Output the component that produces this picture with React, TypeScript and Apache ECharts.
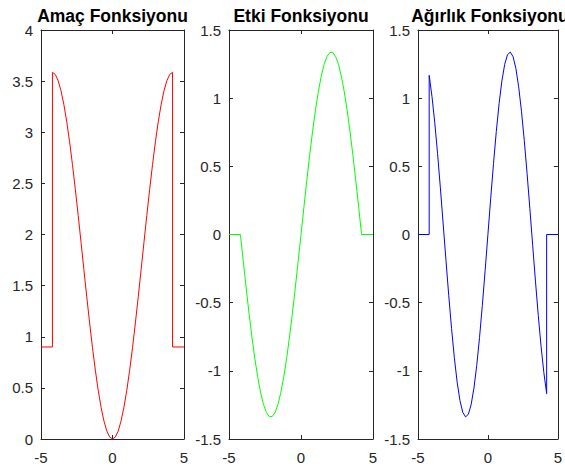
import React, { useEffect, useRef } from "react";
import * as echarts from "echarts";

const titles = ["Amaç Fonksiyonu", "Etki Fonksiyonu", "Ağırlık Fonksiyonu"];

// x positions
const curveX = [
  -4.2, -4.0, -3.8, -3.6, -3.4, -3.2, -3.0, -2.8, -2.6, -2.4, -2.2, -2.0, -1.8, -1.6, -1.4, -1.2, -1.0, -0.8, -0.6, -0.4, -0.2,
  0,
  0.2, 0.4, 0.6, 0.8, 1.0, 1.2, 1.4, 1.6, 1.8, 2.0, 2.2, 2.4, 2.6, 2.8, 3.0, 3.2, 3.4, 3.6, 3.8, 4.0, 4.2,
];

// Amaç (objective) values along curveX
const rhoCurve = [
  3.586, 3.565, 3.504, 3.405, 3.27, 3.103, 2.906, 2.684, 2.443, 2.187, 1.923, 1.655, 1.39, 1.135, 0.894, 0.673, 0.477, 0.311, 0.177, 0.079, 0.02,
  0,
  0.02, 0.079, 0.177, 0.311, 0.477, 0.673, 0.894, 1.135, 1.39, 1.655, 1.923, 2.187, 2.443, 2.684, 2.906, 3.103, 3.27, 3.405, 3.504, 3.565, 3.586,
];

// Etki (influence) values along curveX
const psiCurve = [
  -0.007, -0.206, -0.4, -0.586, -0.759, -0.914, -1.05, -1.162, -1.248, -1.306, -1.336, -1.335, -1.305, -1.246, -1.158, -1.046, -0.91, -0.753, -0.58, -0.394, -0.199,
  0,
  0.199, 0.394, 0.58, 0.753, 0.91, 1.046, 1.158, 1.246, 1.305, 1.335, 1.336, 1.306, 1.248, 1.162, 1.05, 0.914, 0.759, 0.586, 0.4, 0.206, 0.007,
];

// Ağırlık (weight) values along curveX
const wCurve = [
  1.167, 1.013, 0.819, 0.593, 0.342, 0.078, -0.189, -0.449, -0.69, -0.904, -1.083, -1.218, -1.304, -1.338, -1.319, -1.248, -1.127, -0.961, -0.756, -0.521, -0.266,
  0,
  0.266, 0.521, 0.756, 0.961, 1.127, 1.248, 1.319, 1.338, 1.304, 1.218, 1.083, 0.904, 0.69, 0.449, 0.189, -0.078, -0.342, -0.593, -0.819, -1.013, -1.167,
];

// outer flat parts
const rhoLeftX = [-5, -4.2];
const rhoLeftY = [0.9, 0.9];
const rhoRightX = [4.2, 5];
const rhoRightY = [0.9, 0.9];
const psiLeftX = [-5, -4.2];
const psiLeftY = [0, 0];
const psiRightX = [4.2, 5];
const psiRightY = [0, 0];
const wLeftX = [-5, -4.2];
const wLeftY = [0, 0];
const wRightX = [4.2, 5];
const wRightY = [0, 0];

const yRanges = [
  { min: 0, max: 4 },
  { min: -1.5, max: 1.5 },
  { min: -1.5, max: 1.5 },
];

const zip = (xs: number[], ys: number[]) => xs.map((x, i) => [x, ys[i]]);

const FONT = "'Liberation Sans', Arial, Helvetica, sans-serif";
const AX = "#262626";

export default function App() {
  const ref = useRef<HTMLDivElement>(null);
  useEffect(() => {
    if (!ref.current) return;
    const chart = echarts.init(ref.current, undefined, { renderer: "svg" });
    const grids = [
      { left: 41, top: 30, width: 143, height: 409 },
      { left: 229, top: 30, width: 144, height: 409 },
      { left: 418, top: 30, width: 144, height: 409 },
    ];
    const xAxes: any[] = [];
    const yAxes: any[] = [];
    grids.forEach((_, gi) => {
      ["bottom", "top"].forEach((pos) => {
        xAxes.push({
          gridIndex: gi,
          type: "value",
          position: pos,
          min: -5,
          max: 5,
          interval: 5,
          axisLine: { show: true, onZero: false, lineStyle: { color: AX, width: 1 } },
          axisTick: { show: true, inside: true, length: 4, lineStyle: { color: AX, width: 1 } },
          axisLabel: { show: pos === "bottom", margin: 11, fontSize: 15, color: AX, fontFamily: FONT },
          splitLine: { show: false },
        });
      });
      ["left", "right"].forEach((pos) => {
        yAxes.push({
          gridIndex: gi,
          type: "value",
          position: pos,
          min: yRanges[gi].min,
          max: yRanges[gi].max,
          interval: 0.5,
          axisLine: { show: true, onZero: false, lineStyle: { color: AX, width: 1 } },
          axisTick: { show: true, inside: true, length: 4, lineStyle: { color: AX, width: 1 } },
          axisLabel: { show: pos === "left", margin: 8, fontSize: 15, color: AX, fontFamily: FONT },
          splitLine: { show: false },
        });
      });
    });

    const mk = (gi: number, data: number[][], color: string) => ({
      type: "line",
      xAxisIndex: gi * 2,
      yAxisIndex: gi * 2,
      data,
      showSymbol: false,
      symbol: "none",
      lineStyle: { color, width: 1 },
      silent: true,
    });

    const rhoData = [
      ...zip(rhoLeftX, rhoLeftY),
      ...zip(curveX, rhoCurve),
      ...zip(rhoRightX, rhoRightY),
    ];
    const psiData = [
      ...zip(psiLeftX, psiLeftY),
      ...zip(curveX, psiCurve),
      ...zip(psiRightX, psiRightY),
    ];
    const wData = [
      ...zip(wLeftX, wLeftY),
      ...zip(curveX, wCurve),
      ...zip(wRightX, wRightY),
    ];

    chart.setOption({
      animation: false,
      backgroundColor: "#ffffff",
      title: grids.map((g, i) => ({
        text: titles[i],
        left: g.left + g.width / 2,
        textAlign: "center",
        top: 7,
        padding: 0,
        textStyle: { fontSize: 17.5, fontWeight: "bold", color: "#000", fontFamily: FONT },
      })),
      grid: grids,
      xAxis: xAxes,
      yAxis: yAxes,
      series: [mk(0, rhoData, "#ff0000"), mk(1, psiData, "#00ff00"), mk(2, wData, "#0000ff")],
    });
    return () => chart.dispose();
  }, []);
  return (
    <div
      ref={ref}
      style={{ position: "fixed", left: 0, top: 0, width: 565, height: 468, background: "#fff" }}
    />
  );
}
